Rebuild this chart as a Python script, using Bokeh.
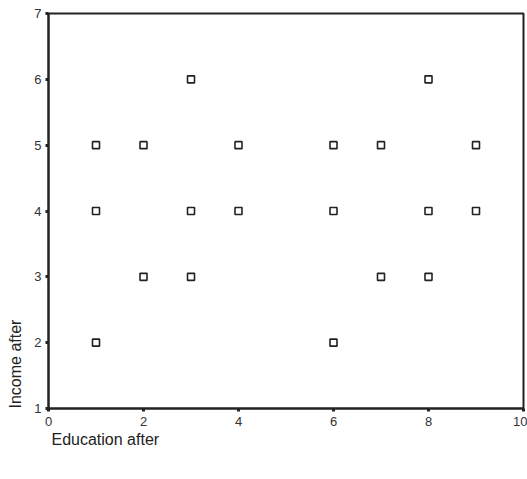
from bokeh.plotting import figure
from bokeh.models import FixedTicker, ColumnDataSource, Title, LinearAxis
from bokeh.embed import file_html
from bokeh.resources import INLINE

education = [1, 1, 1, 2, 2, 3, 3, 3, 4, 4, 6, 6, 6, 7, 7, 8, 8, 8, 9, 9]
income    = [5, 4, 2, 5, 3, 6, 4, 3, 5, 4, 5, 4, 2, 5, 3, 6, 4, 3, 5, 4]
x_ticks = [0, 2, 4, 6, 8, 10]
y_ticks = [1, 2, 3, 4, 5, 6, 7]
x_label = "Education after"
y_label = "Income after"

FONT = "Liberation Sans"

p = figure(width=527, height=479, output_backend="svg", toolbar_location=None,
           x_range=(0, 10), y_range=(1, 7),
           min_border_left=48, min_border_top=13, min_border_bottom=71, min_border_right=4)

src = ColumnDataSource(dict(x=education, y=income))
p.scatter("x", "y", source=src, marker="square", size=7, fill_color="white",
          line_color="#222222", line_width=1.6)

p.xgrid.visible = False
p.ygrid.visible = False
p.outline_line_color = "#222222"
p.outline_line_width = 2
p.background_fill_color = "white"
p.border_fill_color = "white"

for ax, ticks in ((p.xaxis[0], x_ticks), (p.yaxis[0], y_ticks)):
    ax.ticker = FixedTicker(ticks=ticks)
    ax.axis_line_width = 2
    ax.axis_line_color = "#222222"
    ax.major_tick_line_width = 3
    ax.major_tick_line_color = "#222222"
    ax.major_tick_out = 3
    ax.major_tick_in = 0
    ax.minor_tick_line_color = None
    ax.major_label_text_font = FONT
    ax.major_label_text_font_size = "13px"
    ax.major_label_text_color = "#333333"

p.xaxis.major_label_standoff = 5
p.yaxis.major_label_standoff = 4

# blank spacer axis (no ticks) that pushes the x label further down
spacer = LinearAxis(ticker=FixedTicker(ticks=[]), axis_line_color=None,
                    major_tick_line_color="white", minor_tick_line_color="white",
                    major_tick_out=32, major_tick_in=0, minor_tick_out=0,
                    major_label_standoff=0)
p.add_layout(spacer, "below")

xt = Title(text=x_label, align="left", offset=3, standoff=0, vertical_align="bottom",
           text_font=FONT, text_font_size="16px", text_font_style="normal",
           text_color="#222222")
yt = Title(text=y_label, align="left", offset=0, standoff=12, vertical_align="top",
           text_font=FONT, text_font_size="16px", text_font_style="normal",
           text_color="#222222")
p.add_layout(xt, "below")
p.add_layout(yt, "left")

open("out.html", "w").write(file_html(p, INLINE))
